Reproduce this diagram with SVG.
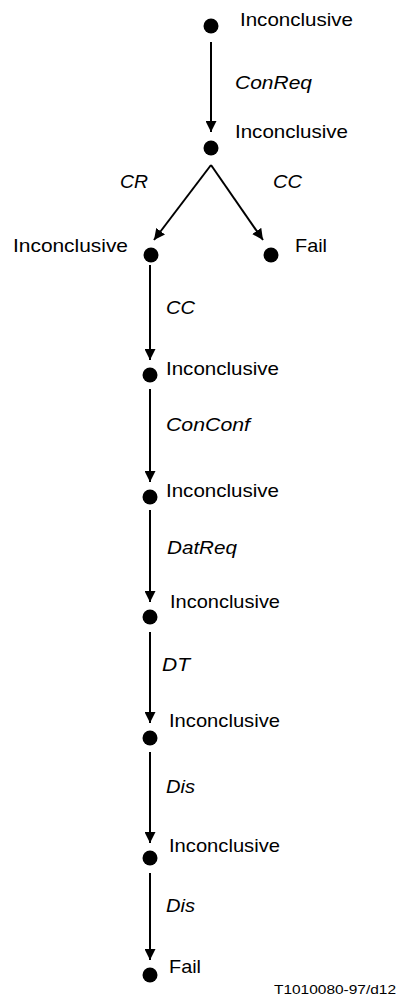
<svg xmlns="http://www.w3.org/2000/svg" width="402" height="997" viewBox="0 0 402 997">
<style>
.t{font-family:"Liberation Sans",Arial,sans-serif;font-size:18.5px;fill:#000}
.i{font-style:italic}
.f{font-family:"Liberation Sans",Arial,sans-serif;font-size:13.5px;fill:#000}
.e{stroke:#000;stroke-width:2;fill:none;marker-end:url(#ah)}
.d{fill:#000}
</style>
<defs>
<marker id="ah" markerUnits="userSpaceOnUse" markerWidth="11" markerHeight="11" viewBox="0 0 10 10" refX="10" refY="5" orient="auto">
<path d="M0,0 L10,5 L0,10 z" fill="#000"/>
</marker>
</defs>
<rect width="402" height="997" fill="#fff"/>
<g id="connectors">
<path class="e" d="M211,42 L211,132"/>
<path class="e" d="M211,165 L154,240"/>
<path class="e" d="M211,165 L263,240"/>
<path class="e" d="M150,265 L150,360"/>
<path class="e" d="M150,389 L150,482"/>
<path class="e" d="M150,510 L150,602"/>
<path class="e" d="M150,632 L150,723"/>
<path class="e" d="M150,752 L150,843"/>
<path class="e" d="M150,873 L150,960"/>
</g>
<g id="edge-labels">
<text class="t i" x="235" y="89" textLength="77" lengthAdjust="spacingAndGlyphs">ConReq</text>
<text class="t i" x="120" y="188" textLength="28" lengthAdjust="spacingAndGlyphs">CR</text>
<text class="t i" x="273" y="188" textLength="29" lengthAdjust="spacingAndGlyphs">CC</text>
<text class="t i" x="166" y="314" textLength="29" lengthAdjust="spacingAndGlyphs">CC</text>
<text class="t i" x="166" y="431" textLength="84" lengthAdjust="spacingAndGlyphs">ConConf</text>
<text class="t i" x="167" y="554" textLength="70" lengthAdjust="spacingAndGlyphs">DatReq</text>
<text class="t i" x="162" y="671" textLength="28" lengthAdjust="spacingAndGlyphs">DT</text>
<text class="t i" x="166" y="793" textLength="29" lengthAdjust="spacingAndGlyphs">Dis</text>
<text class="t i" x="166" y="912" textLength="29" lengthAdjust="spacingAndGlyphs">Dis</text>
</g>
<g id="n1"><circle class="d" cx="211" cy="26" r="7.5"/><text class="t" x="240" y="26" textLength="113" lengthAdjust="spacingAndGlyphs">Inconclusive</text></g>
<g id="n2"><circle class="d" cx="211" cy="148" r="7.5"/><text class="t" x="235" y="138" textLength="113" lengthAdjust="spacingAndGlyphs">Inconclusive</text></g>
<g id="n3"><circle class="d" cx="151" cy="255" r="7.5"/><text class="t" x="13" y="252" textLength="115" lengthAdjust="spacingAndGlyphs">Inconclusive</text></g>
<g id="n3b"><circle class="d" cx="271" cy="255" r="7.5"/><text class="t" x="295" y="252" textLength="32" lengthAdjust="spacingAndGlyphs">Fail</text></g>
<g id="n4"><circle class="d" cx="150" cy="375" r="7.5"/><text class="t" x="166" y="375" textLength="113" lengthAdjust="spacingAndGlyphs">Inconclusive</text></g>
<g id="n5"><circle class="d" cx="150" cy="497" r="7.5"/><text class="t" x="166" y="497" textLength="113" lengthAdjust="spacingAndGlyphs">Inconclusive</text></g>
<g id="n6"><circle class="d" cx="150" cy="617" r="7.5"/><text class="t" x="170" y="608" textLength="110" lengthAdjust="spacingAndGlyphs">Inconclusive</text></g>
<g id="n7"><circle class="d" cx="150" cy="738" r="7.5"/><text class="t" x="169" y="727" textLength="111" lengthAdjust="spacingAndGlyphs">Inconclusive</text></g>
<g id="n8"><circle class="d" cx="150" cy="858" r="7.5"/><text class="t" x="169" y="852" textLength="111" lengthAdjust="spacingAndGlyphs">Inconclusive</text></g>
<g id="n9"><circle class="d" cx="150" cy="975" r="7.5"/><text class="t" x="169" y="973" textLength="32" lengthAdjust="spacingAndGlyphs">Fail</text></g>
<text class="f" x="274" y="994" textLength="122" lengthAdjust="spacingAndGlyphs">T1010080-97/d12</text>
</svg>
